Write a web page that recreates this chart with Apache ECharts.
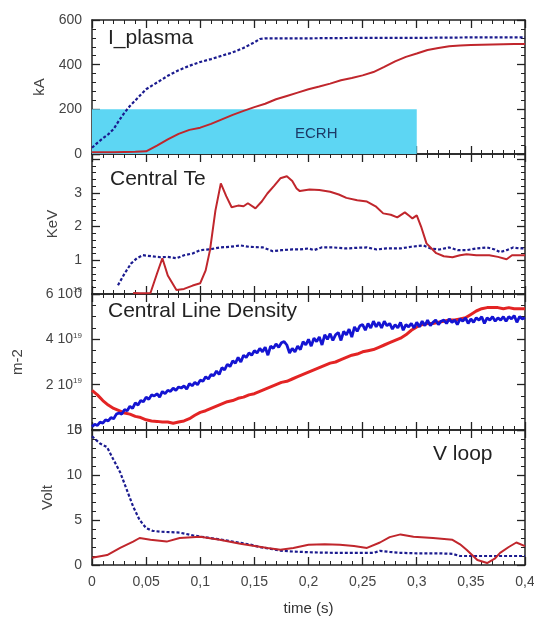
<!DOCTYPE html>
<html>
<head>
<meta charset="utf-8">
<script src="https://cdn.jsdelivr.net/npm/echarts@6/dist/echarts.min.js"></script>
<style>
html,body{margin:0;padding:0;background:#fff;}
#c{width:534px;height:617px;}
</style>
</head>
<body>
<div id="c"></div>
<script>
// ---------- DATA ----------
const xTicks = [0, 0.05, 0.1, 0.15, 0.2, 0.25, 0.3, 0.35, 0.4];
const panelTitles = ['I_plasma', 'Central Te', 'Central Line Density', 'V loop'];
const yNames = ['kA', 'KeV', 'm-2', 'Volt'];
const ecrh = {start: 0, end: 0.3, top: 200, label: 'ECRH'};

// I_plasma (kA) vs time (s)
const ipBlue = [[0,28],[0.005,50],[0.01,70],[0.015,88],[0.02,112],[0.025,150],[0.03,185],[0.035,215],[0.04,240],[0.045,265],[0.05,290],[0.055,305],[0.06,320],[0.07,350],[0.08,375],[0.09,395],[0.1,412],[0.11,425],[0.12,440],[0.13,455],[0.14,475],[0.15,500],[0.155,515],[0.16,518],[0.2,518],[0.25,520],[0.3,520],[0.35,522],[0.4,522]];
const ipRed = [[0,8],[0.01,8],[0.02,8],[0.03,9],[0.04,10],[0.05,12],[0.06,38],[0.07,65],[0.08,90],[0.09,108],[0.1,118],[0.11,135],[0.12,155],[0.13,175],[0.14,193],[0.15,210],[0.16,225],[0.17,245],[0.18,260],[0.19,275],[0.2,290],[0.21,302],[0.22,315],[0.23,330],[0.24,340],[0.25,352],[0.26,367],[0.27,390],[0.28,415],[0.29,435],[0.3,450],[0.31,466],[0.32,475],[0.33,482],[0.34,486],[0.35,488],[0.36,489],[0.37,490],[0.38,491],[0.39,492],[0.4,492]];

// Central Te (keV)
const teBlue = [[0.024,0.26],[0.03,0.6],[0.036,0.9],[0.0415,1.06],[0.047,1.15],[0.055,1.12],[0.063,1.09],[0.07,1.1],[0.078,1.06],[0.085,1.15],[0.093,1.2],[0.1,1.3],[0.11,1.33],[0.118,1.38],[0.128,1.4],[0.137,1.44],[0.145,1.4],[0.158,1.38],[0.167,1.27],[0.175,1.3],[0.185,1.32],[0.192,1.32],[0.2,1.35],[0.205,1.3],[0.212,1.38],[0.223,1.38],[0.235,1.35],[0.245,1.37],[0.254,1.38],[0.263,1.32],[0.272,1.35],[0.285,1.35],[0.295,1.4],[0.306,1.44],[0.313,1.35],[0.321,1.32],[0.33,1.38],[0.338,1.3],[0.346,1.3],[0.355,1.35],[0.365,1.38],[0.372,1.32],[0.377,1.24],[0.383,1.3],[0.389,1.38],[0.395,1.35],[0.4,1.35]];
const teRed = [[0.038,0.03],[0.045,0.02],[0.054,0.03],[0.06,0.6],[0.065,1.06],[0.07,0.55],[0.078,0.12],[0.085,0.15],[0.093,0.25],[0.1,0.32],[0.105,0.7],[0.109,1.3],[0.114,2.47],[0.119,3.28],[0.124,2.9],[0.129,2.57],[0.135,2.62],[0.14,2.6],[0.144,2.69],[0.151,2.54],[0.157,2.75],[0.162,2.98],[0.168,3.2],[0.174,3.43],[0.18,3.49],[0.185,3.35],[0.189,3.13],[0.192,3.05],[0.201,3.1],[0.21,3.08],[0.22,3.03],[0.228,2.95],[0.235,2.85],[0.245,2.78],[0.254,2.74],[0.262,2.6],[0.269,2.39],[0.276,2.35],[0.282,2.27],[0.289,2.42],[0.293,2.32],[0.296,2.24],[0.3,2.33],[0.304,2.0],[0.309,1.5],[0.318,1.21],[0.325,1.12],[0.333,1.09],[0.34,1.15],[0.346,1.18],[0.355,1.15],[0.367,1.15],[0.375,1.1],[0.383,1.03],[0.388,1.15],[0.395,1.15],[0.4,1.15]];

// Central line density (units of 1e19 m-2)
const densBlueStep = 0.0025;
const densBlue = [
 0.15,0.25,0.2,0.35,0.3,0.45,0.4,0.55,0.5,0.7,
 0.75,0.7,0.9,0.85,1.05,0.95,1.2,1.1,1.3,1.25,
 1.45,1.35,1.55,1.5,1.6,1.45,1.7,1.6,1.75,1.7,
 1.85,1.75,1.9,1.85,1.95,1.8,2.05,1.95,2.1,2.0,
 2.2,2.15,2.35,2.25,2.45,2.4,2.6,2.45,2.75,2.65,
 2.9,2.8,3.05,2.95,3.2,3.0,3.3,3.2,3.4,3.3,
 3.5,3.4,3.6,3.45,3.65,3.3,3.7,3.6,3.8,3.65,
 3.85,3.9,3.75,3.4,3.6,3.45,3.7,3.55,3.9,3.75,
 4.0,3.7,4.05,3.9,4.1,3.75,4.2,4.0,4.25,3.95,
 4.2,4.3,3.95,4.35,4.2,4.45,4.1,4.55,4.35,4.6,
 4.65,4.4,4.7,4.5,4.8,4.55,4.75,4.5,4.8,4.6,
 4.7,4.45,4.65,4.5,4.75,4.4,4.65,4.55,4.7,4.5,
 4.75,4.55,4.8,4.6,4.85,4.6,4.75,4.85,4.65,4.8,
 4.85,4.7,4.9,4.75,4.85,4.65,4.9,4.8,4.95,4.7,
 4.9,4.75,4.95,4.85,5.0,4.7,4.95,4.85,5.0,4.8,
 4.95,4.85,5.0,4.8,5.0,4.9,5.05,4.75,5.0,4.9,4.95];
const densRedStep = 0.005;
const densRed = [
 1.75,1.55,1.3,1.1,0.95,0.85,0.75,0.7,0.6,0.55,
 0.45,0.4,0.38,0.35,0.35,0.3,0.35,0.4,0.5,0.65,
 0.78,0.85,0.95,1.05,1.15,1.25,1.3,1.4,1.45,1.55,
 1.6,1.7,1.8,1.9,2.0,2.1,2.15,2.25,2.35,2.45,
 2.55,2.65,2.75,2.85,2.95,3.0,3.1,3.2,3.3,3.35,
 3.45,3.5,3.55,3.65,3.75,3.85,3.95,4.05,4.2,4.4,
 4.55,4.65,4.7,4.7,4.75,4.8,4.85,4.85,4.9,4.95,
 5.1,5.25,5.35,5.4,5.4,5.4,5.35,5.4,5.35,5.35,5.35];

// V loop (Volt)
const vBlue = [[0,14.3],[0.0074,13.5],[0.0139,13.1],[0.0194,11.8],[0.026,10.3],[0.032,8.4],[0.038,6.5],[0.044,5.0],[0.05,4.1],[0.056,3.8],[0.063,3.7],[0.072,3.65],[0.081,3.6],[0.093,3.3],[0.1,3.15],[0.115,2.9],[0.13,2.6],[0.145,2.3],[0.155,2.0],[0.165,1.8],[0.174,1.6],[0.185,1.5],[0.192,1.46],[0.205,1.4],[0.223,1.35],[0.24,1.35],[0.26,1.35],[0.266,1.57],[0.275,1.45],[0.285,1.35],[0.3,1.3],[0.32,1.3],[0.333,1.24],[0.34,1.0],[0.36,1.0],[0.38,1.0],[0.4,1.0]];
const vRed = [[0,0.8],[0.014,1.1],[0.026,1.9],[0.038,2.6],[0.044,3.0],[0.054,2.8],[0.069,2.6],[0.081,3.0],[0.1,3.15],[0.118,2.8],[0.137,2.36],[0.162,1.9],[0.174,1.7],[0.186,1.9],[0.2,2.25],[0.215,2.3],[0.229,2.25],[0.242,2.1],[0.254,1.9],[0.266,2.5],[0.275,3.1],[0.285,3.4],[0.297,3.15],[0.315,3.0],[0.333,2.8],[0.34,2.3],[0.346,1.7],[0.356,0.56],[0.365,0.22],[0.372,0.7],[0.377,1.35],[0.385,2.0],[0.392,2.5],[0.4,2.1]];

// y-axis ranges
const yMin = [0, 0, 0, 0];
const yMax = [600, 4.15, 6, 15];
const yInterval = [200, 1, 2, 5];
const yMinorSplit = [5, 5, 4, 5];
const yLabelMax = [600, 3, 6, 15]; // highest labelled value per panel

// ---------- CHART ----------
const FONT = '"Liberation Sans", Arial, Helvetica, sans-serif';
const LEFT = 92, WIDTH = 433;
const gridTops = [20, 154, 294, 430];
const gridHeights = [134, 140, 136, 135];
const nameGaps = [44, 32, 67, 36];

function pairs(step, arr) { return arr.map((v, i) => [+(i * step).toFixed(4), v]); }
function commaFmt(v) { return String(Math.round(v * 100) / 100).replace('.', ','); }

const grids = [], xAxes = [], yAxes = [];
for (let i = 0; i < 4; i++) {
  grids.push({left: LEFT, width: WIDTH, top: gridTops[i], height: gridHeights[i], containLabel: false, outerBoundsMode: 'none'});
  const isLast = i === 3;
  const xCommon = {
    type: 'value', gridIndex: i, min: xTicks[0], max: xTicks[xTicks.length - 1], interval: xTicks[1] - xTicks[0],
    axisLine: {show: true, onZero: false, lineStyle: {color: '#222', width: 1.5}},
    axisTick: {show: true, inside: true, length: 8, lineStyle: {color: '#222', width: 1.3}},
    minorTick: {show: true, splitNumber: 5, length: 4, lineStyle: {color: '#222', width: 1}},
    splitLine: {show: false}, minorSplitLine: {show: false}
  };
  xAxes.push(Object.assign({}, xCommon, {
    position: 'bottom',
    axisLabel: {show: isLast, formatter: commaFmt, color: '#444', fontSize: 14, fontFamily: FONT, margin: 10, showMaxLabel: true},
    name: isLast ? 'time (s)' : '', nameLocation: 'middle', nameGap: 36,
    nameTextStyle: {color: '#333', fontSize: 15, fontFamily: FONT}
  }));
  xAxes.push(Object.assign({}, xCommon, {position: 'top', axisLabel: {show: false}}));

  const yCommon = {
    type: 'value', gridIndex: i, min: yMin[i], max: yMax[i], interval: yInterval[i],
    axisLine: {show: true, onZero: false, lineStyle: {color: '#222', width: 1.5}},
    axisTick: {show: true, inside: true, length: 8, lineStyle: {color: '#222', width: 1.3}},
    minorTick: {show: true, splitNumber: yMinorSplit[i], length: 4, lineStyle: {color: '#222', width: 1}},
    splitLine: {show: false}, minorSplitLine: {show: false}
  };
  const lim = yLabelMax[i];
  const lab = {show: true, color: '#444', fontSize: 14, fontFamily: FONT, margin: 10, showMaxLabel: i !== 1, showMinLabel: true,
    formatter: function (v) { return v > lim ? '' : String(v); }};
  if (i === 2) {
    lab.formatter = function (v) { return v === 0 ? '0' : '{n|' + v + ' 10}{s|19}'; };
    lab.rich = {n: {fontSize: 14, color: '#444', fontFamily: FONT}, s: {fontSize: 8, color: '#444', fontFamily: FONT, padding: [0, 0, 8, 0]}};
  }
  yAxes.push(Object.assign({}, yCommon, {
    position: 'left', axisLabel: lab,
    name: yNames[i], nameLocation: 'middle', nameGap: nameGaps[i], nameRotate: 90,
    nameTextStyle: {color: '#444', fontSize: 15, fontFamily: FONT}
  }));
  yAxes.push(Object.assign({}, yCommon, {position: 'right', axisLabel: {show: false}}));
}

const BLUE_D = '#1b1b8f', RED_D = '#c0262c';
const BLUE_B = '#1414d2', RED_B = '#e32424';
function lineSeries(grid, data, color, width, dashed, z) {
  return {
    type: 'line', xAxisIndex: grid * 2, yAxisIndex: grid * 2, data: data,
    showSymbol: false, symbol: 'none', silent: true, z: z || 3,
    lineStyle: {color: color, width: width, type: dashed ? [3, 2] : 'solid'},
    clip: true
  };
}

const series = [
  {
    type: 'line', xAxisIndex: 0, yAxisIndex: 0, data: [], symbol: 'none', silent: true, z: 1,
    markArea: {
      silent: true,
      itemStyle: {color: '#5dd6f3', opacity: 1},
      label: {show: false},
      data: [[{xAxis: ecrh.start, yAxis: 0}, {xAxis: ecrh.end, yAxis: ecrh.top}]]
    }
  },
  lineSeries(0, ipRed, RED_D, 2, false),
  lineSeries(0, ipBlue, BLUE_D, 2.2, true),
  lineSeries(1, teBlue, BLUE_D, 2.2, true),
  lineSeries(1, teRed, RED_D, 2, false),
  lineSeries(2, pairs(densRedStep, densRed), RED_B, 3, false),
  lineSeries(2, pairs(densBlueStep, densBlue), BLUE_B, 2.8, false),
  lineSeries(3, vBlue, BLUE_D, 2.2, true),
  lineSeries(3, vRed, RED_D, 2, false)
];

const titlePos = [[108, 28], [110, 169], [108, 301], [433, 444]];
const graphic = panelTitles.map((t, i) => ({
  type: 'text', left: titlePos[i][0], top: titlePos[i][1], z: 10, silent: true,
  style: {text: t, font: '21px ' + FONT, fill: '#222'}
}));
graphic.push({
  type: 'text', left: 295, top: 126, z: 10, silent: true,
  style: {text: ecrh.label, font: '15px ' + FONT, fill: '#1d3a66'}
});

const chart = echarts.init(document.getElementById('c'), null, {renderer: 'canvas'});
chart.setOption({
  animation: false,
  backgroundColor: '#ffffff',
  textStyle: {fontFamily: FONT},
  grid: grids, xAxis: xAxes, yAxis: yAxes, series: series, graphic: graphic
});
</script>
</body>
</html>
